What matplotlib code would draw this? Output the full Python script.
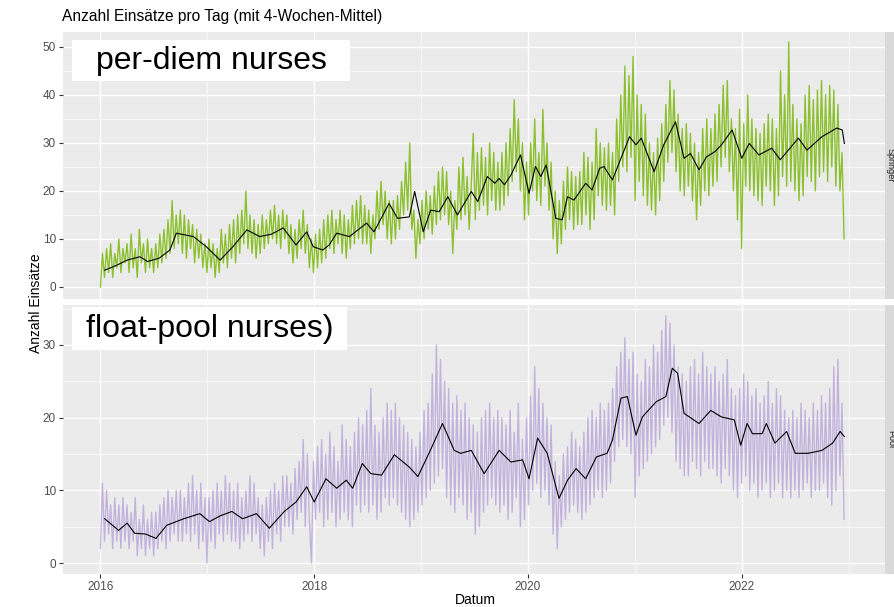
import matplotlib
matplotlib.use("Agg")
import matplotlib.pyplot as plt
from matplotlib.patches import Rectangle
import numpy as np

plt.rcParams['font.family'] = ['Liberation Sans', 'DejaVu Sans']

# ---- data ----
# weekly values of the daily counts, starting 2016-01-01, 13 weeks per row
springer_weekly = [
    0, 7, 2, 8, 3, 9, 2, 7, 4, 10, 3, 8, 5,
    9, 3, 11, 4, 8, 2, 12, 5, 9, 3, 10, 4, 8,
    3, 9, 4, 11, 5, 12, 6, 14, 7, 18, 8, 15, 9,
    16, 7, 15, 6, 14, 8, 13, 5, 12, 6, 11, 4, 9,
    3, 10, 4, 9, 2, 8, 3, 12, 5, 11, 4, 13, 6,
    14, 5, 15, 7, 16, 9, 20, 8, 15, 7, 14, 6, 13,
    7, 15, 8, 14, 9, 16, 10, 17, 9, 15, 8, 16, 10,
    15, 7, 13, 5, 12, 6, 14, 8, 16, 7, 13, 4, 10,
    3, 11, 4, 12, 5, 14, 6, 15, 8, 16, 7, 14, 9,
    16, 7, 15, 6, 14, 8, 17, 9, 18, 10, 19, 9, 17,
    9, 16, 7, 15, 10, 20, 12, 22, 13, 20, 10, 18, 9,
    18, 10, 19, 12, 22, 15, 26, 16, 30, 12, 16, 6, 14,
    9, 18, 10, 20, 12, 19, 11, 21, 13, 24, 14, 25, 15,
    24, 13, 20, 7, 18, 12, 25, 14, 27, 15, 23, 12, 21,
    32, 14, 28, 16, 29, 17, 27, 15, 30, 18, 28, 16, 26,
    16, 28, 17, 30, 19, 33, 22, 39, 24, 35, 20, 30, 14,
    26, 15, 30, 20, 35, 18, 28, 17, 37, 21, 30, 16, 26,
    10, 20, 7, 18, 9, 22, 12, 25, 14, 24, 12, 23, 13,
    24, 13, 28, 15, 27, 12, 26, 14, 33, 19, 30, 17, 29,
    16, 30, 17, 28, 15, 35, 22, 40, 25, 46, 24, 44, 27,
    48, 18, 40, 22, 38, 19, 36, 17, 30, 16, 28, 15, 31,
    18, 34, 22, 38, 26, 43, 28, 41, 24, 36, 20, 33, 19,
    34, 21, 32, 18, 30, 14, 28, 17, 33, 20, 35, 19, 33,
    21, 36, 22, 38, 25, 42, 27, 43, 24, 35, 20, 33, 14,
    37, 8, 34, 21, 40, 20, 35, 19, 33, 18, 32, 17, 34,
    21, 36, 20, 35, 17, 33, 19, 45, 23, 40, 21, 51, 22,
    38, 20, 35, 18, 34, 19, 40, 23, 42, 22, 39, 20, 41,
    23, 43, 24, 40, 22, 42, 25, 41, 21, 38, 20, 28, 10,
]

pool_weekly = [
    2, 11, 3, 10, 4, 8, 2, 9, 3, 8, 2, 9, 3,
    8, 2, 7, 3, 9, 1, 6, 2, 8, 1, 6, 2, 7,
    1, 7, 2, 8, 3, 9, 2, 10, 3, 9, 4, 10, 3,
    10, 3, 9, 4, 11, 3, 12, 4, 10, 2, 11, 3, 9,
    0, 9, 3, 10, 2, 11, 4, 10, 3, 12, 4, 11, 3,
    10, 3, 11, 2, 9, 3, 10, 4, 12, 3, 11, 4, 9,
    2, 8, 1, 9, 3, 10, 2, 11, 4, 10, 3, 12, 5,
    12, 5, 11, 4, 13, 6, 14, 7, 17, 5, 15, 6, 0,
    14, 6, 16, 7, 17, 5, 15, 6, 18, 7, 16, 5, 14,
    6, 19, 7, 17, 6, 16, 5, 18, 8, 20, 7, 19, 8,
    21, 7, 24, 8, 19, 6, 18, 7, 20, 9, 22, 8, 21,
    9, 22, 8, 20, 7, 19, 6, 18, 5, 17, 6, 16, 7,
    18, 8, 21, 9, 22, 10, 26, 11, 30, 12, 28, 13, 25,
    9, 24, 8, 22, 7, 23, 9, 21, 8, 22, 6, 20, 7,
    19, 4, 18, 5, 20, 7, 21, 8, 22, 9, 20, 8, 21,
    7, 20, 8, 19, 6, 21, 7, 18, 9, 22, 5, 17, 6,
    20, 8, 23, 10, 27, 11, 24, 9, 22, 10, 20, 8, 19,
    4, 14, 2, 12, 5, 15, 6, 16, 7, 18, 8, 17, 7,
    16, 6, 18, 7, 20, 8, 21, 9, 20, 10, 22, 9, 21,
    10, 22, 11, 24, 14, 27, 16, 29, 17, 31, 16, 28, 15,
    29, 9, 26, 12, 25, 13, 28, 14, 27, 15, 30, 16, 29,
    17, 32, 19, 34, 20, 33, 18, 30, 14, 27, 13, 26, 12,
    25, 12, 27, 14, 28, 13, 26, 12, 29, 14, 27, 13, 26,
    13, 27, 12, 25, 11, 26, 13, 28, 12, 24, 10, 23, 9,
    24, 11, 26, 12, 25, 10, 23, 11, 24, 9, 22, 10, 23,
    11, 25, 9, 22, 10, 24, 11, 23, 9, 21, 10, 20, 9,
    21, 10, 20, 9, 22, 10, 21, 11, 20, 9, 22, 10, 21,
    10, 23, 11, 22, 9, 24, 8, 27, 10, 28, 12, 22, 6,
]

# 4-week mean, read at the turning points (decimal year, value)
springer_mean_t = [
    2016.04, 2016.15, 2016.25, 2016.37, 2016.44, 2016.55, 2016.65, 2016.71, 2016.87, 2016.99,
    2017.12, 2017.24, 2017.37, 2017.49, 2017.60, 2017.71, 2017.83, 2017.93, 2017.99,
    2018.08, 2018.14, 2018.21, 2018.33, 2018.49, 2018.56, 2018.70, 2018.78, 2018.89, 2018.94,
    2019.02, 2019.09, 2019.17, 2019.25, 2019.34, 2019.47, 2019.53, 2019.62, 2019.69, 2019.73,
    2019.78, 2019.84, 2019.93, 2020.01, 2020.07, 2020.12, 2020.17, 2020.26, 2020.32, 2020.37,
    2020.43, 2020.54, 2020.60, 2020.67, 2020.71, 2020.79, 2020.95, 2021.01, 2021.06, 2021.18,
    2021.27, 2021.38, 2021.46, 2021.52, 2021.60, 2021.67, 2021.75, 2021.81, 2021.91, 2022.00,
    2022.07, 2022.16, 2022.28, 2022.36, 2022.53, 2022.61, 2022.75, 2022.89, 2022.94, 2022.96,
]
springer_mean = [
    3.5, 4.5, 5.6, 6.3, 5.3, 6.0, 7.7, 11.2, 10.5, 8.4,
    5.6, 8.4, 11.9, 10.5, 11.0, 12.3, 8.75, 11.5, 8.4,
    7.7, 8.75, 11.2, 10.5, 13.3, 11.5, 17.4, 14.3, 14.6, 19.9,
    11.5, 16.0, 15.7, 18.8, 15.0, 19.9, 17.8, 23.0, 21.6, 22.6,
    21.3, 23.3, 27.5, 19.5, 25.1, 23.0, 25.4, 14.3, 14.0, 18.8,
    18.1, 21.6, 20.2, 24.7, 25.1, 22.3, 31.3, 29.6, 31.0, 24.0,
    29.6, 34.4, 26.8, 27.8, 24.4, 27.1, 28.2, 29.6, 32.7, 26.8,
    29.9, 27.5, 28.9, 26.5, 31.0, 28.5, 31.3, 33.1, 32.7, 29.9,
]

pool_mean_t = [
    2016.04, 2016.17, 2016.25, 2016.32, 2016.42, 2016.52, 2016.62, 2016.78, 2016.93, 2017.02,
    2017.12, 2017.23, 2017.33, 2017.46, 2017.58, 2017.72, 2017.83, 2017.93, 2018.00, 2018.11,
    2018.21, 2018.30, 2018.36, 2018.45, 2018.53, 2018.63, 2018.75, 2018.89, 2018.97, 2019.08,
    2019.20, 2019.31, 2019.37, 2019.47, 2019.59, 2019.73, 2019.84, 2019.95, 2020.01, 2020.09,
    2020.18, 2020.29, 2020.37, 2020.45, 2020.54, 2020.64, 2020.74, 2020.79, 2020.87, 2020.93,
    2021.01, 2021.07, 2021.20, 2021.29, 2021.35, 2021.40, 2021.46, 2021.60, 2021.71, 2021.81,
    2021.93, 2021.99, 2022.05, 2022.10, 2022.19, 2022.23, 2022.31, 2022.42, 2022.50, 2022.62,
    2022.75, 2022.85, 2022.92, 2022.96,
]
pool_mean = [
    6.1, 4.5, 5.5, 4.1, 4.0, 3.4, 5.2, 6.1, 6.8, 5.7,
    6.5, 7.1, 6.1, 6.8, 4.8, 7.1, 8.4, 10.5, 8.4, 11.6,
    10.3, 11.4, 10.3, 13.7, 12.3, 12.1, 14.9, 13.2, 11.9, 15.3,
    19.2, 15.5, 15.1, 15.5, 12.3, 15.5, 13.9, 14.2, 11.6, 17.2,
    15.1, 8.9, 11.4, 13.0, 11.6, 14.6, 15.1, 16.9, 22.7, 22.9,
    17.6, 20.1, 22.2, 22.9, 26.8, 26.1, 20.6, 19.2, 21.0, 20.1,
    19.7, 16.2, 19.2, 17.8, 17.8, 19.2, 16.5, 18.1, 15.1, 15.1,
    15.5, 16.5, 18.1, 17.4,
]

year_ticks = [2016, 2018, 2020, 2022]
year_minor = [2017, 2019, 2021, 2023]

# weekly time positions in decimal years
week_t = 2016 + np.arange(len(springer_weekly)) * 7 / 365.25

# ---- figure ----
fig = plt.figure(figsize=(8.95, 6.07), dpi=100)
W, H = 895, 607


def px_box(x0, y0, x1, y1):
    return [x0 / W, 1 - y1 / H, (x1 - x0) / W, (y1 - y0) / H]


panels = [
    dict(box=(63, 32, 885, 299), ylim=(-2.5, 53.1), yt=[0, 10, 20, 30, 40, 50],
         ym=[5, 15, 25, 35, 45], raw=springer_weekly, col='#74B600', alpha=0.8,
         mt=springer_mean_t, mv=springer_mean, strip='Springer'),
    dict(box=(63, 305, 885, 574), ylim=(-1.5, 35.5), yt=[0, 10, 20, 30],
         ym=[5, 15, 25, 35], raw=pool_weekly, col='#B8A5DA', alpha=0.8,
         mt=pool_mean_t, mv=pool_mean, strip='Pool'),
]

axes = []
for p in panels:
    ax = fig.add_axes(px_box(*p['box']))
    ax.set_facecolor('#EBEBEB')
    ax.plot(week_t, p['raw'], color=p['col'], alpha=p['alpha'], linewidth=1.0)
    ax.plot(p['mt'], p['mv'], color='black', linewidth=0.8)
    ax.set_xlim(2015.65, 2023.34)
    ax.set_ylim(*p['ylim'])
    ax.set_xticks(year_ticks)
    ax.set_xticks(year_minor, minor=True)
    ax.set_yticks(p['yt'])
    ax.set_yticks(p['ym'], minor=True)
    ax.grid(True, which='major', color='white', linewidth=1.0)
    ax.grid(True, which='minor', color='white', linewidth=0.5)
    ax.set_axisbelow(True)
    for s in ax.spines.values():
        s.set_visible(False)
    ax.tick_params(which='major', length=3, color='#333333', labelcolor='#4D4D4D',
                   labelsize=8.5, pad=2)
    ax.tick_params(which='minor', length=0)
    # facet strip on the right edge
    x0, y0, x1, y1 = p['box']
    sax = fig.add_axes(px_box(x1, y0, W, y1))
    sax.set_facecolor('#D9D9D9')
    sax.set_xticks([])
    sax.set_yticks([])
    for s in sax.spines.values():
        s.set_visible(False)
    sax.text(0.55, 0.5, p['strip'], rotation=-90, ha='center', va='center',
             fontsize=6.5, color='#1A1A1A', transform=sax.transAxes)
    axes.append(ax)

axes[0].tick_params(axis='x', labelbottom=False, length=0)

# titles and labels
fig.text(62 / W, 1 - 17 / H, 'Anzahl Einsätze pro Tag (mit 4-Wochen-Mittel)',
         ha='left', va='center', fontsize=11.2, color='black')
fig.text(475 / W, 1 - 600 / H, 'Datum', ha='center', va='center', fontsize=10)
fig.text(36 / W, 1 - 303 / H, 'Anzahl Einsätze', ha='center', va='center',
         rotation=90, fontsize=10)

# white label boxes
for (x0, y0, x1, y1, label) in [(72, 40, 350, 81, 'per-diem nurses'),
                                (72, 307, 347, 350, 'float-pool nurses)')]:
    fig.patches.append(Rectangle((x0 / W, 1 - y1 / H), (x1 - x0) / W, (y1 - y0) / H,
                                 transform=fig.transFigure, facecolor='white',
                                 edgecolor='none', zorder=5))
    fig.text((x0 + x1) / 2 / W, 1 - ((y0 + y1) / 2 + 1) / H, label, ha='center',
             va='center', fontsize=23, color='black', zorder=6)

fig.savefig('out.png', dpi=100)
